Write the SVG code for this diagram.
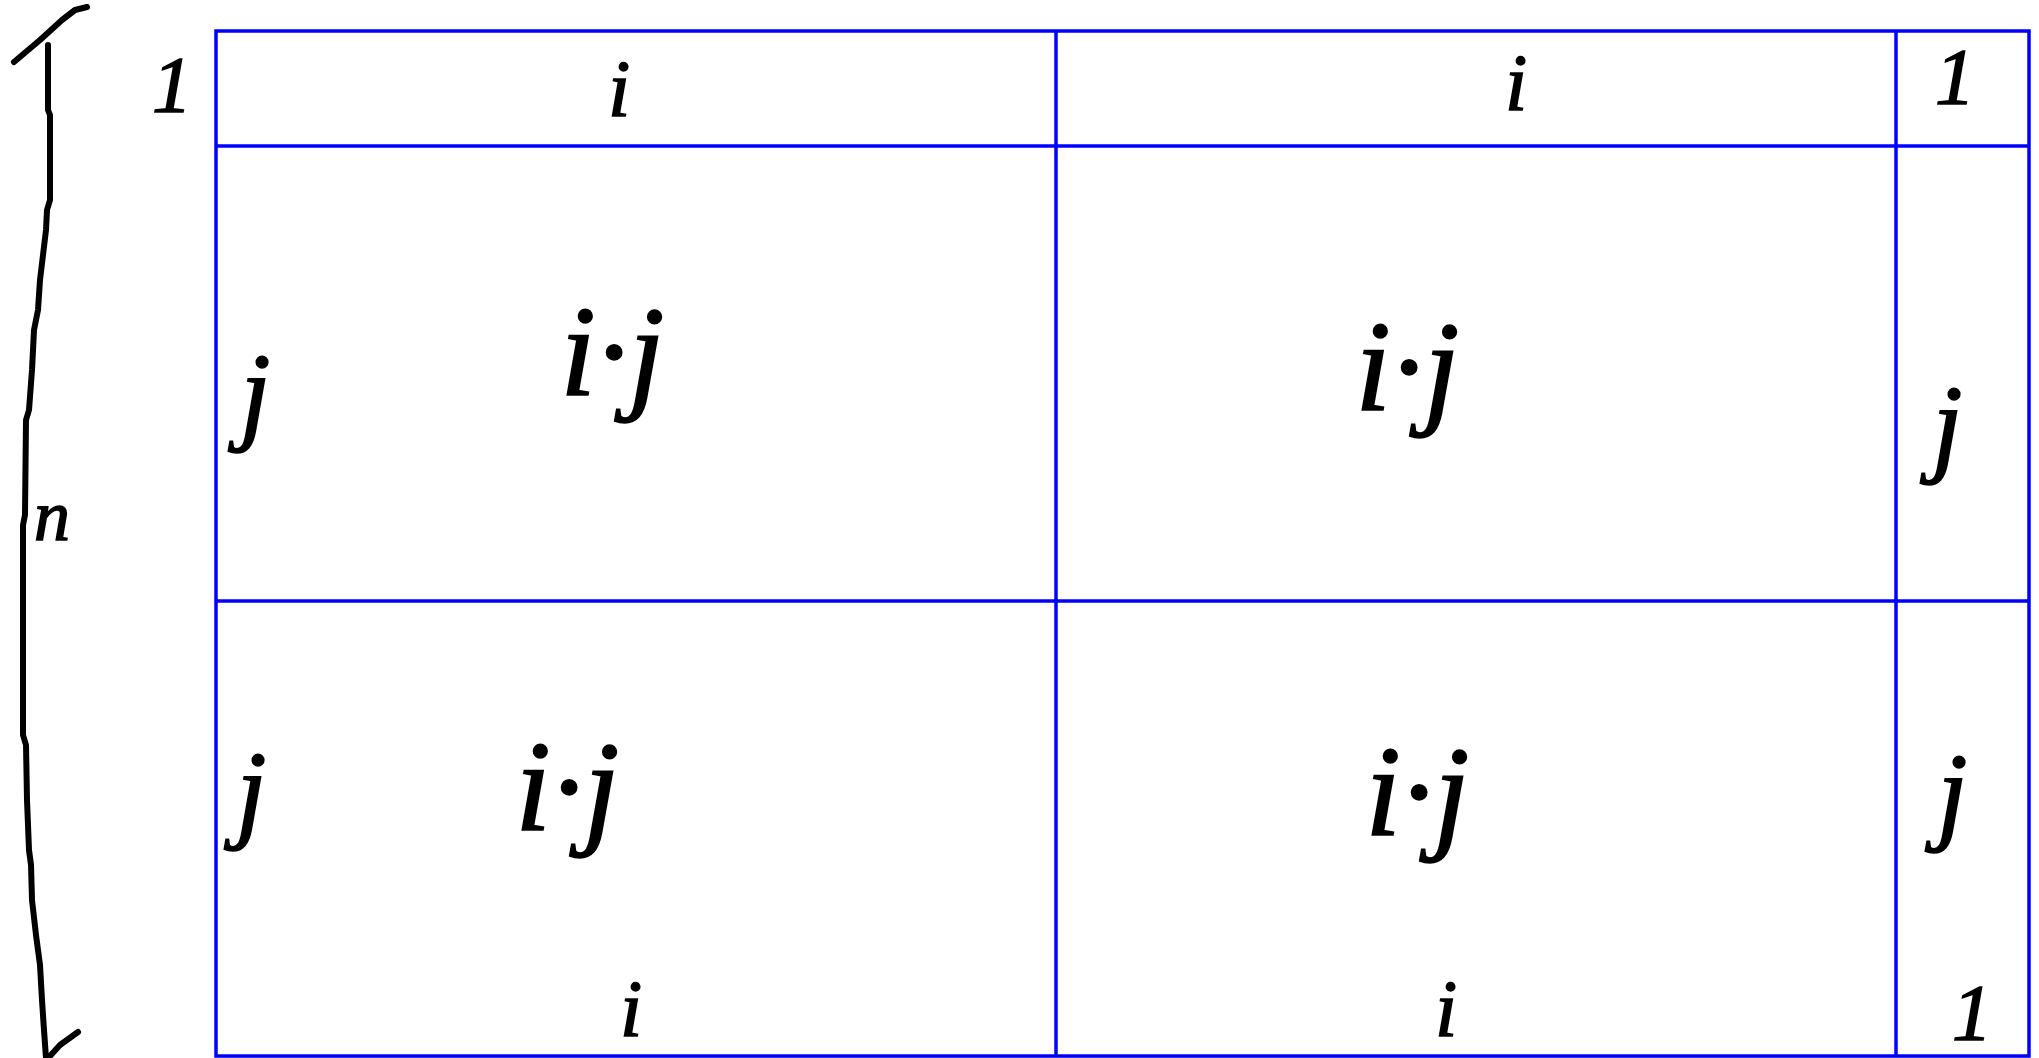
<svg xmlns="http://www.w3.org/2000/svg" width="2039" height="1058" viewBox="0 0 2039 1058">
<style>
.grid{stroke:#0000ff;stroke-width:3.5;fill:none}
.ink{stroke:#000;stroke-width:6;fill:none;stroke-linecap:round;stroke-linejoin:round}
.t{font-family:"Liberation Serif",serif;font-style:italic;fill:#000;stroke:#000;stroke-width:1.5}
.s{font-size:80px}
.m{font-size:130px}
.j{font-size:110px}
</style>
<rect width="2039" height="1058" fill="#fff"/>
<g id="connectors">
<path class="ink" d="M48,45 L48,110 L50,115 L50,200 L47,210 L46,230 L43,255 L40,280 L38,310 L34,330 L32,370 L29,410 L26,420 L25,515 L23,525 L23,735 L26,745 L27,800 L29,850 L31,865 L32,900 L36,935 L40,965 L42,1000 L44,1030 L46,1058"/>
<path class="ink" d="M14,62 L40,40 L62,20 L75,10 L87,7"/>
<path class="ink" d="M50,1056 L60,1045 L78,1032"/>
</g>
<g id="grid">
<rect class="grid" x="216" y="31" width="1813" height="1025"/>
<line class="grid" x1="216" y1="146" x2="2029" y2="146"/>
<line class="grid" x1="216" y1="601" x2="2029" y2="601"/>
<line class="grid" x1="1056" y1="31" x2="1056" y2="1056"/>
<line class="grid" x1="1896" y1="31" x2="1896" y2="1056"/>
</g>
<g id="label-n"><text class="t" x="34" y="540" style="font-size:72px">n</text></g>
<g id="row-label-1"><text class="t s" x="152" y="112">1</text></g>
<g id="h1"><text class="t s" x="608" y="116">i</text></g>
<g id="h2"><text class="t s" x="1505" y="110">i</text></g>
<g id="h3"><text class="t s" x="1935" y="104">1</text></g>
<g id="r1c0"><text class="t j" x="240" y="430">j</text></g>
<g id="r1c1"><text class="t m" x="560" y="395">i·j</text></g>
<g id="r1c2"><text class="t m" x="1355" y="410">i·j</text></g>
<g id="r1c3"><text class="t j" x="1932" y="462">j</text></g>
<g id="r2c0"><text class="t j" x="236" y="828">j</text></g>
<g id="r2c1"><text class="t m" x="515" y="830">i·j</text></g>
<g id="r2c2"><text class="t m" x="1365" y="835">i·j</text></g>
<g id="r2c3"><text class="t j" x="1937" y="830">j</text></g>
<g id="f1"><text class="t s" x="620" y="1036">i</text></g>
<g id="f2"><text class="t s" x="1435" y="1036">i</text></g>
<g id="f3"><text class="t s" x="1952" y="1040">1</text></g>
</svg>
